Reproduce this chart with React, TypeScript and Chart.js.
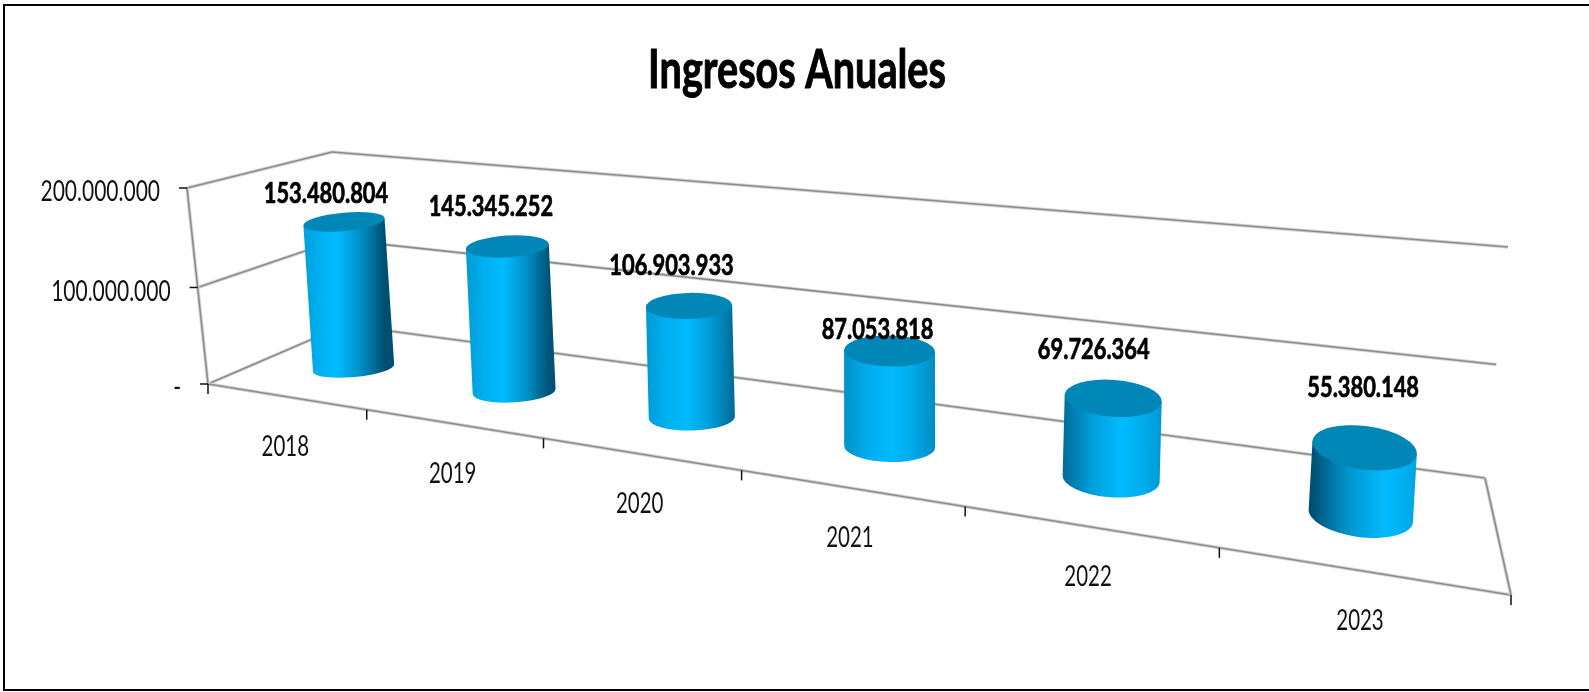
import React, { useEffect, useRef } from "react";
import { Chart, registerables } from "chart.js";

Chart.register(...registerables);

const TITLE = "Ingresos Anuales";
const categories = ["2018", "2019", "2020", "2021", "2022", "2023"];
const ingresos = [153480804, 145345252, 106903933, 87053818, 69726364, 55380148];
const yMax = 200000000;
const yStep = 100000000;

// --- perspective planes (style only) ---
type P = [number, number];
const FRONT: P[] = [[187, 188], [1539, 318], [1511, 595], [208, 384]];
const MID: P[] = [[265, 170], [1517, 278], [1498, 535.5], [279, 357]];
const BACK: P[] = [[332, 152], [1508, 247], [1485, 478], [345, 325]];

// --- shading per cylinder (style only) ---
const SHADE_LEFT = [0.25, 0.3, 0.3, 0.38, 0.7, 0.98];
const SHADE_RIGHT = [1, 0.95, 0.7, 0.42, 0.3, 0.22];
const HIGHLIGHT = [0.42, 0.45, 0.48, 0.52, 0.58, 0.7];
// label nudges from the top of each cylinder (Excel's hand-placed labels)
const LABEL_NUDGE: P[] = [[-18, -28], [-16.5, -40], [-17.5, -40], [-12, -21], [-19.5, -48], [-1.5, -60]];

function quadMap(q: P[]) {
  const [[x0, y0], [x1, y1], [x2, y2], [x3, y3]] = q;
  const dx1 = x1 - x2, dx2 = x3 - x2, sx = x0 - x1 + x2 - x3;
  const dy1 = y1 - y2, dy2 = y3 - y2, sy = y0 - y1 + y2 - y3;
  const den = dx1 * dy2 - dx2 * dy1;
  const g = (sx * dy2 - dx2 * sy) / den;
  const h = (dx1 * sy - sx * dy1) / den;
  const a = x1 - x0 + g * x1, b = x3 - x0 + h * x3;
  const d = y1 - y0 + g * y1, e = y3 - y0 + h * y3;
  return (u: number, v: number) => {
    const w = g * u + h * v + 1;
    return { x: (a * u + b * v + x0) / w, y: (d * u + e * v + y0) / w };
  };
}
const front = quadMap(FRONT);
const mid = quadMap(MID);
const back = quadMap(BACK);

function mix(t: number) {
  const bright = [0, 187, 255];
  const dark = [0, 78, 112];
  return `rgb(${bright.map((c, i) => Math.round(c + (dark[i] - c) * t)).join(",")})`;
}

function text(ctx: CanvasRenderingContext2D, s: string, x: number, y: number, font: string, sx: number, align: CanvasTextAlign, color: string, bold = 0) {
  ctx.save();
  ctx.translate(x, y);
  ctx.scale(sx, 1);
  ctx.font = font;
  ctx.fillStyle = color;
  ctx.textAlign = align;
  ctx.textBaseline = "middle";
  ctx.fillText(s, 0, 0);
  if (bold > 0) {
    ctx.strokeStyle = color;
    ctx.lineWidth = bold;
    ctx.lineJoin = "round";
    ctx.strokeText(s, 0, 0);
  }
  ctx.restore();
}

function seg(ctx: CanvasRenderingContext2D, a: { x: number; y: number }, b: { x: number; y: number }, color: string, w: number) {
  ctx.strokeStyle = color;
  ctx.lineWidth = w;
  ctx.beginPath();
  ctx.moveTo(a.x, a.y);
  ctx.lineTo(b.x, b.y);
  ctx.stroke();
}

function gridSeg(ctx: CanvasRenderingContext2D, a: { x: number; y: number }, b: { x: number; y: number }) {
  seg(ctx, a, b, "#d6d6d6", 3.5);
  seg(ctx, a, b, "#8c8c8c", 1.6);
}

const chart3d = {
  id: "chart3d",
  beforeDatasetDraw() {
    return false;
  },
  afterDatasetsDraw(chart: any) {
    const ctx: CanvasRenderingContext2D = chart.ctx;
    const area = chart.chartArea;
    const xs = chart.scales.x;
    const ys = chart.scales.y;
    const U = (px: number) => (px - area.left) / (area.right - area.left);
    const V = (py: number) => (py - area.top) / (area.bottom - area.top);

    ctx.save();
    // frame
    ctx.strokeStyle = "#000";
    ctx.lineWidth = 2;
    ctx.beginPath();
    ctx.moveTo(1589, 5);
    ctx.lineTo(4, 5);
    ctx.lineTo(4, 690);
    ctx.lineTo(1589, 690);
    ctx.stroke();

    // title
    text(ctx, chart.options.plugins.title.text, 797, 71, "700 53px Lato", 0.747, "center", "#000", 1);

    // walls and gridlines
    ys.ticks.forEach((tick: any) => {
      const v = V(ys.getPixelForValue(tick.value));
      gridSeg(ctx, front(0, v), back(0, v));
      gridSeg(ctx, back(0, v), back(1, v));
    });
    gridSeg(ctx, front(0, 0), front(0, 1));
    gridSeg(ctx, front(0, 1), front(1, 1));
    gridSeg(ctx, back(1, 1), front(1, 1));

    // value ticks and labels
    ys.ticks.forEach((tick: any) => {
      const p = front(0, V(ys.getPixelForValue(tick.value)));
      seg(ctx, { x: p.x - 8, y: p.y }, p, "#111", 1.5);
      text(ctx, tick.label, p.x - 27, p.y + 4, "400 28px Lato", 0.75, "right", "#111");
    });

    // category ticks and labels
    categories.forEach((_, i) => {
      const p = front(U(xs.getPixelForValue(i - 0.5)), 1);
      seg(ctx, p, { x: p.x, y: p.y + 10 }, "#111", 1.5);
    });
    const lastTick = front(U(xs.getPixelForValue(categories.length - 0.5)), 1);
    seg(ctx, lastTick, { x: lastTick.x, y: lastTick.y + 10 }, "#111", 1.5);
    xs.ticks.forEach((tick: any, i: number) => {
      const p = front(U(xs.getPixelForTick(i)), 1);
      text(ctx, tick.label, p.x, p.y + 50, "400 28px Lato", 0.73, "center", "#111");
    });

    // cylinders
    const meta = chart.getDatasetMeta(0);
    const tops: { x: number; y: number }[] = [];
    meta.data.forEach((el: any, i: number) => {
      const t = U(el.x);
      const T = mid(t, V(el.y));
      const B = mid(t, V(el.base));
      const rx = (el.width / 2) * (1 + 0.35 * t * t);
      const ry = 8.5 + 8 * t + 7 * t * t;
      const ang = ((-6 + 8 * t + 7.5 * t * t) * Math.PI) / 180;
      tops.push(T);

      const grad = ctx.createLinearGradient(T.x - rx, 0, T.x + rx, 0);
      const hl = HIGHLIGHT[i];
      grad.addColorStop(0, mix(SHADE_LEFT[i]));
      grad.addColorStop(hl / 2, mix(SHADE_LEFT[i] * 0.35));
      grad.addColorStop(hl, mix(0));
      grad.addColorStop(hl + (1 - hl) / 2, mix(SHADE_RIGHT[i] * 0.4));
      grad.addColorStop(1, mix(SHADE_RIGHT[i]));

      const c = Math.cos(ang), s = Math.sin(ang);
      ctx.fillStyle = grad;
      ctx.beginPath();
      ctx.moveTo(T.x - rx * c, T.y - rx * s);
      ctx.lineTo(B.x - rx * c, B.y - rx * s);
      ctx.ellipse(B.x, B.y, rx, ry, ang, Math.PI, 0, true);
      ctx.lineTo(T.x + rx * c, T.y + rx * s);
      ctx.closePath();
      ctx.fill();

      ctx.fillStyle = "#0087b8";
      ctx.beginPath();
      ctx.ellipse(T.x, T.y, rx, ry, ang, 0, Math.PI * 2);
      ctx.fill();
    });

    // value labels
    const fmt = new Intl.NumberFormat("es-ES", { useGrouping: "always" } as any);
    meta.data.forEach((el: any, i: number) => {
      const [dx, dy] = LABEL_NUDGE[i];
      const label = fmt.format(chart.data.datasets[0].data[i]);
      text(ctx, label, tops[i].x + dx, tops[i].y + dy, "700 28px Lato", 0.78, "center", "#000", 0.7);
    });
    ctx.restore();
  },
};

export default function App() {
  const ref = useRef<HTMLCanvasElement>(null);
  useEffect(() => {
    const chart = new Chart(ref.current!, {
      type: "bar",
      data: {
        labels: categories,
        datasets: [{ label: "Ingresos", data: ingresos, backgroundColor: "#00bbff", categoryPercentage: 1, barPercentage: 0.4 }],
      },
      options: {
        animation: false,
        responsive: false,
        layout: { padding: { left: 279, right: 91, top: 170, bottom: 335 } },
        plugins: {
          legend: { display: false },
          tooltip: { enabled: false },
          title: { display: false, text: TITLE },
        },
        scales: {
          x: { display: false, offset: true },
          y: {
            display: false,
            min: 0,
            max: yMax,
            ticks: {
              stepSize: yStep,
              callback: (v: any) => (v === 0 ? "-" : new Intl.NumberFormat("es-ES", { useGrouping: "always" } as any).format(v)),
            },
          },
        },
      },
      plugins: [chart3d],
    } as any);
    return () => chart.destroy();
  }, []);
  return (
    <div style={{ position: "fixed", left: 0, top: 0, width: 1589, height: 692, background: "#fff" }}>
      <canvas ref={ref} width={1589} height={692} style={{ display: "block" }} />
    </div>
  );
}
